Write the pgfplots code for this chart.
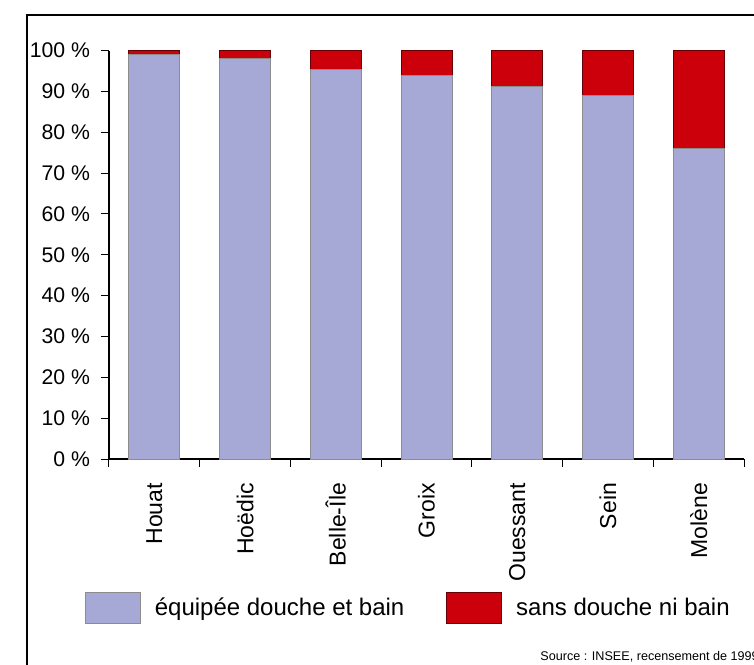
\documentclass[border=0pt]{standalone}
\usepackage{pgfplots}
\pgfplotsset{compat=1.18}
\usepackage{fontspec}
\setmainfont{Liberation Sans}
\definecolor{blu}{RGB}{166,168,214}
\definecolor{rd}{RGB}{204,0,10}
\begin{document}
\begin{tikzpicture}
\useasboundingbox (0,0) rectangle (377pt,-332pt);
\draw[line width=0.8pt] (13.5pt,-7.5pt) rectangle (400pt,-350pt);
\begin{axis}[
  at={(54.5pt,-229.5pt)}, anchor=south west,
  scale only axis, width=317.5pt, height=204.25pt,
  ybar stacked, bar width=25.5pt,
  xmin=-0.5, xmax=6.5, ymin=0, ymax=100,
  axis x line*=bottom, axis y line*=left,
  xtick={0,1,2,3,4,5,6},
  xticklabels={Houat,Hoëdic,Belle-Île,Groix,Ouessant,Sein,Molène},
  minor xtick={-0.5,0.5,1.5,2.5,3.5,4.5,5.5,6.5},
  ytick={0,10,...,100},
  yticklabels={0 \%,10 \%,20 \%,30 \%,40 \%,50 \%,60 \%,70 \%,80 \%,90 \%,100 \%},
  tick align=outside,
  major tick length=4pt, minor tick length=4pt,
  major x tick style={draw=none},
  tick style={line width=0.5pt, black},
  axis line style={line width=0.7pt},
  x tick label style={rotate=90, anchor=east, xshift=-4.5pt, font=\fontsize{11.5}{13}\selectfont},
  y tick label style={xshift=-2pt, font=\fontsize{10.6}{12}\selectfont},
  legend columns=2,
  legend style={at={(0.473,-0.365)}, anchor=center, draw=none, fill=none,
    font=\fontsize{12}{14}\selectfont,
    /tikz/every even column/.append style={column sep=19pt}},
  legend image code/.code={\draw[#1] (0pt,-7.75pt) rectangle (27.5pt,7.75pt); \path (32.5pt,0pt);},
]
\addplot[fill=blu, draw=black!45, line width=0.4pt] coordinates {(0,99.0) (1,98.0) (2,95.4) (3,93.8) (4,91.2) (5,88.9) (6,76.0)};
\addlegendentry{équipée douche et bain}
\addplot[fill=rd, draw=rd!50!black, line width=0.4pt] coordinates {(0,1.0) (1,2.0) (2,4.6) (3,6.2) (4,8.8) (5,11.1) (6,24.0)};
\addlegendentry{sans douche ni bain}
\end{axis}
\node[anchor=base west, font=\fontsize{6.3}{7}\selectfont, inner sep=0pt] at (270pt,-330pt) {Source : INSEE, recensement de 1999};
\end{tikzpicture}
\end{document}
